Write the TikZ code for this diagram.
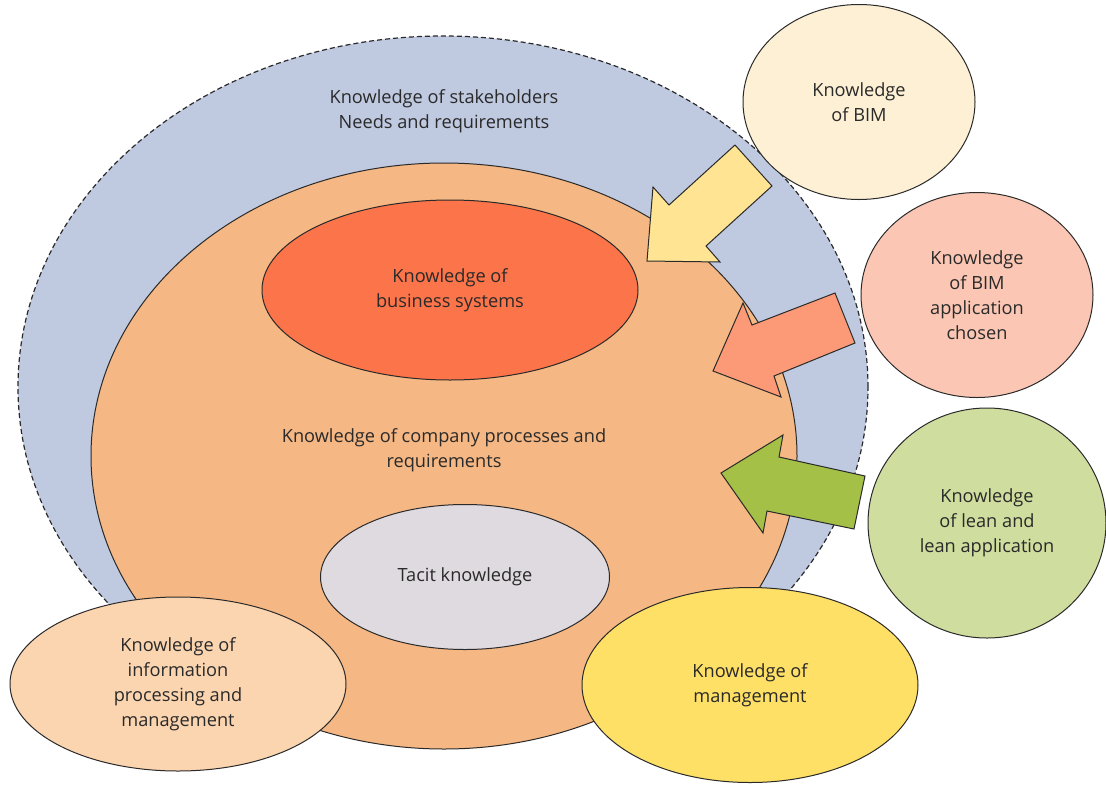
\documentclass[tikz,border=0pt]{standalone}
\usepackage{fontspec}
\setmainfont{Open Sans}
\usetikzlibrary{shapes.geometric}
\definecolor{cblue}{HTML}{BFC9E0}
\definecolor{corange}{HTML}{F5B783}
\definecolor{cred}{HTML}{FC7449}
\definecolor{ctacit}{HTML}{DFDADF}
\definecolor{cinfo}{HTML}{FBD4B0}
\definecolor{cmgmt}{HTML}{FFE066}
\definecolor{cbim}{HTML}{FDF0D5}
\definecolor{cbimapp}{HTML}{FBC7B4}
\definecolor{clean}{HTML}{CFDD9F}
\definecolor{cyarrow}{HTML}{FFE494}
\definecolor{csarrow}{HTML}{FC9A78}
\definecolor{cgarrow}{HTML}{A5C046}
\definecolor{cline}{HTML}{2A2A2A}
\definecolor{ctext}{HTML}{2A2A2A}
\tikzset{
  ell/.style={ellipse, draw=cline, line width=1pt, inner sep=0pt, align=center,
    text=ctext, font=\fontsize{18.2}{25}\selectfont},
  barrow/.style={draw=cline, line width=1pt, line join=miter},
  lbl/.style={align=center, text=ctext, font=\fontsize{18.2}{25}\selectfont}
}
\begin{document}
\begin{tikzpicture}[x=1pt,y=-1pt]
\useasboundingbox (0,0) rectangle (1106,785);
\node[ell, fill=cblue, line width=1.2pt, dash pattern=on 5pt off 3pt, minimum width=850pt, minimum height=702pt] (stake) at (443,387) {};
\node[lbl] (stakelbl) at (444,111) {Knowledge of stakeholders\\Needs and requirements};
\node[ell, fill=corange, minimum width=706pt, minimum height=586pt] (company) at (444,456) {};
\node[lbl] (complbl) at (444,450) {Knowledge of company processes and\\requirements};
\node[ell, fill=cred, minimum width=376pt, minimum height=180pt] (business) at (450,290) {Knowledge of\\business systems};
\node[ell, fill=ctacit, minimum width=289pt, minimum height=145pt] (tacit) at (465,577) {Tacit knowledge};
\node[ell, fill=cinfo, minimum width=336pt, minimum height=174pt] (info) at (178,684) {Knowledge of\\information\\processing and\\management};
\node[ell, fill=cmgmt, minimum width=336pt, minimum height=195pt] (mgmt) at (750,685) {Knowledge of\\management};
\node[ell, fill=cbim, minimum width=232pt, minimum height=195pt] (bim) at (859,102) {Knowledge\\of BIM};
\node[ell, fill=cbimapp, minimum width=232pt, minimum height=205pt] (bimapp) at (977,295) {Knowledge\\of BIM\\application\\chosen};
\node[ell, fill=clean, minimum width=238pt, minimum height=230pt] (lean) at (987,523) {Knowledge\\of lean and\\lean application};
\draw[barrow, fill=cyarrow] (735,145) -- (772,186) -- (706,246) -- (720,262) -- (647,261) -- (653,187) -- (669,205) -- cycle;
\draw[barrow, fill=csarrow] (835,293) -- (855,343) -- (774,376) -- (781,397) -- (713,371) -- (743,303) -- (752,325) -- cycle;
\draw[barrow, fill=cgarrow] (865,476) -- (854,529) -- (767,511) -- (763,533) -- (721,473) -- (783,435) -- (779,457) -- cycle;
\end{tikzpicture}
\end{document}
